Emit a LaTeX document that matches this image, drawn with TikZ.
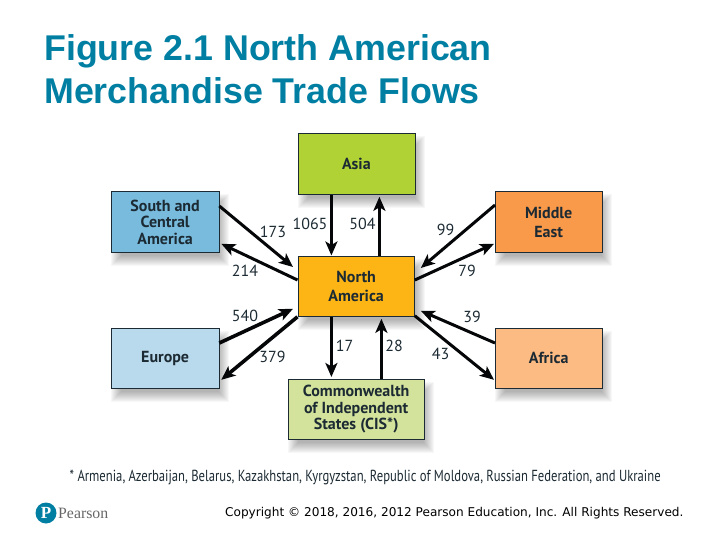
\documentclass[tikz,border=0pt]{standalone}
\usepackage{graphicx}
\usepackage{fontspec}
\setmainfont{PT Sans}
\newfontfamily\titlefont{Liberation Sans}
\newfontfamily\copyfont{DejaVu Sans}
\newfontfamily\logofont{Liberation Serif}
\usetikzlibrary{arrows.meta,backgrounds,calc}
\definecolor{titleteal}{HTML}{007FA3}
\definecolor{inkdark}{HTML}{1C2A33}
\definecolor{asiac}{HTML}{B1D235}
\definecolor{southc}{HTML}{78BBDC}
\definecolor{midc}{HTML}{F9994A}
\definecolor{northc}{HTML}{FDB515}
\definecolor{euroc}{HTML}{B9D9EC}
\definecolor{afrc}{HTML}{FDBB84}
\definecolor{cisc}{HTML}{D3E39B}
\tikzset{
  region/.style={draw=inkdark,line width=0.8pt,anchor=north west,inner sep=0pt,align=center,
    text=inkdark,font=\fontsize{16}{18}\selectfont\bfseries},
  flow/.style={draw=black!85!inkdark,line width=3.6pt,-{Stealth[length=14pt,width=12pt,inset=3.5pt]}},
  flowthin/.style={flow,line width=3pt},
  val/.style={text=inkdark,inner sep=0pt,font=\fontsize{16}{18}\selectfont},
  headline/.style={anchor=base west,inner sep=0pt,text=titleteal,font=\titlefont\bfseries\fontsize{35.8}{40}\selectfont},
}
\begin{document}
\begin{tikzpicture}[x=1pt,y=-1pt]
\useasboundingbox (0,0) rectangle (720,540);
\node[headline] (t1) at (44,61) {Figure 2.1 North American};
\node[headline] (t2) at (44,104) {Merchandise Trade Flows};

\node[region,fill=asiac,minimum width=117pt,minimum height=61pt] (asia) at (297.5,133.5) {Asia};
\node[region,fill=southc,minimum width=107.5pt,minimum height=60.5pt] (south) at (111,191.5) {South and\\[-1.5pt]Central\\[-1.5pt]America};
\node[region,fill=midc,minimum width=106.5pt,minimum height=60.5pt] (mid) at (495,191.5) {Middle\\[1pt]East};
\node[region,fill=northc,minimum width=116.5pt,minimum height=60.5pt] (na) at (297.5,255.5) {North\\[1pt]America};
\node[region,fill=euroc,minimum width=107.5pt,minimum height=60.5pt] (euro) at (111,327.5) {Europe};
\node[region,fill=afrc,minimum width=106.5pt,minimum height=60.5pt] (afr) at (495,327.5) {Africa};
\node[region,fill=cisc,minimum width=135.5pt,minimum height=60.5pt] (cis) at (288,378.5) {Commonwealth\\[-1.5pt]of Independent\\[-1.5pt]States (CIS*)};

\begin{scope}[on background layer]
\foreach \n in {asia,south,mid,na,euro,afr,cis}
  \foreach \g in {-5,...,5}
    \fill[black,opacity=0.032] ([shift={(5-\g,8-\g)}]\n.north west)
      rectangle ([shift={(5+\g,8+\g)}]\n.south east);
\end{scope}

\draw[flowthin] ([shift={(0,14.5)}]south.north east) -- ([shift={(-4.5,11.5)}]na.north west);
\draw[flowthin] ([shift={(0,24.5)}]na.north west) -- ([shift={(2,-9)}]south.south east);
\draw[flow] ([shift={(-25,0)}]asia.south) -- ([shift={(-24.75,0)}]na.north);
\draw[flow] ([shift={(23.25,0)}]na.north) -- ([shift={(23,1.5)}]asia.south);
\draw[flowthin] ([shift={(0,13.5)}]mid.north west) -- ([shift={(6,12.5)}]na.north east);
\draw[flowthin] ([shift={(0,24.5)}]na.north east) -- ([shift={(-1,-9)}]mid.south west);
\draw[flowthin] ([shift={(0,15.5)}]afr.north west) -- ([shift={(6,-6)}]na.south east);
\draw[flowthin] ([shift={(0,-1)}]na.south east) -- ([shift={(-1,-9)}]afr.south west);
\draw[flow] ([shift={(0,15.5)}]euro.north east) -- ([shift={(-4.5,-8)}]na.south west);
\draw[flow] (na.south west) -- ([shift={(2,-9)}]euro.south east);
\draw[flow] ([shift={(-24.75,0)}]na.south) -- ([shift={(-24.75,-1.5)}]cis.north);
\draw[flow] ([shift={(25.25,0)}]cis.north) -- ([shift={(25.25,2)}]na.south);

\node[val] (v173) at (273,232) {173};
\node[val] (v1065) at (310,224) {1065};
\node[val] (v504) at (362.5,224) {504};
\node[val] (v99) at (445.5,229.5) {99};
\node[val] (v214) at (245,271) {214};
\node[val] (v79) at (467,271) {79};
\node[val] (v540) at (245,316) {540};
\node[val] (v39) at (472,317) {39};
\node[val] (v379) at (272.5,357) {379};
\node[val] (v43) at (440.5,353.5) {43};
\node[val] (v17) at (344.5,346) {17};
\node[val] (v28) at (394,346) {28};

\node[inner sep=0pt,anchor=base west,text=inkdark,font=\fontsize{16}{17}\selectfont] (foot) at (69.5,481)
  {\resizebox{591pt}{\height}{* Armenia, Azerbaijan, Belarus, Kazakhstan, Kyrgyzstan, Republic of Moldova, Russian Federation, and Ukraine}};

\node[circle,fill=titleteal,minimum size=21pt,inner sep=0pt,text=white,font=\logofont\bfseries\fontsize{17}{17}\selectfont] (logo) at (46,513) {P};
\node[inner sep=0pt,anchor=base west,text=black!60,font=\logofont\fontsize{15.8}{17}\selectfont] (pearson) at (58,518.5) {Pearson};
\node[inner sep=0pt,anchor=base west,text=black,font=\copyfont\fontsize{12.1}{14}\selectfont] (copy) at (225,516.5)
  {Copyright © 2018, 2016, 2012 Pearson Education, Inc. All Rights Reserved.};
\end{tikzpicture}
\end{document}
